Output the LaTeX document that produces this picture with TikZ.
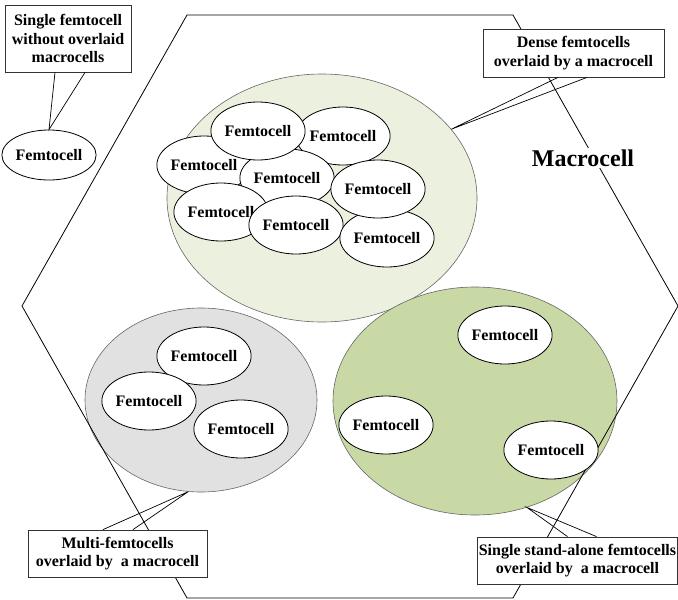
\documentclass[tikz,border=0pt]{standalone}
\usepackage{fontspec}
\setmainfont{Liberation Serif}
\usetikzlibrary{shapes.geometric}
\definecolor{densegreen}{HTML}{EBF1DE}
\definecolor{alonegreen}{HTML}{C8D9A6}
\definecolor{multigray}{HTML}{E1E1E1}

\begin{document}
\begin{tikzpicture}[x=1pt, y=-1pt,
    femto/.style = {ellipse, draw, line width=0.8pt, fill=white, minimum width=92pt, minimum height=58pt, inner sep=0pt, font=\fontsize{16}{18.5}\selectfont\bfseries},
    bigcell/.style = {ellipse, draw=black!60, line width=0.6pt, inner sep=0pt},
    callbox/.style = {rectangle, draw=black!80, line width=0.8pt, fill=white, align=center, inner sep=2pt, font=\fontsize{16}{18.5}\selectfont\bfseries}]
    \useasboundingbox (0,0) rectangle (678,600);

    % big cells
    \node[bigcell, fill=densegreen, minimum width=310pt, minimum height=248pt] (dense) at (322,198) {};
    \node[bigcell, fill=multigray, minimum width=232pt, minimum height=184pt] (multi) at (201,400) {};
    \node[bigcell, fill=alonegreen, minimum width=284pt, minimum height=228pt] (alone) at (475,401) {};

    % macrocell
    \draw[line width=0.8pt] (187,15) -- (513,15) -- (678,306) -- (513,598) -- (187,598) -- (22,306) -- cycle;

    % dense femtocells
    \node[femto] (d2) at (343,136) {Femtocell};
    \node[femto] (d3) at (204,165) {Femtocell};
    \node[femto] (d4) at (287,178) {Femtocell};
    \node[femto] (d1) at (258,131) {Femtocell};
    \node[femto] (d6) at (221,212) {Femtocell};
    \node[femto] (d7) at (296,225) {Femtocell};
    \node[femto] (d8) at (387,238) {Femtocell};
    \node[femto] (d5) at (378,189) {Femtocell};

    % multi femtocells
    \node[femto] (m1) at (204,356) {Femtocell};
    \node[femto] (m2) at (149,401) {Femtocell};
    \node[femto] (m3) at (241,429) {Femtocell};

    % stand-alone femtocells
    \node[femto] (s1) at (505,335) {Femtocell};
    \node[femto] (s2) at (386,425) {Femtocell};
    \node[femto] (s3) at (551,450) {Femtocell};

    \node[femto, minimum width=82pt, minimum height=50pt] (solo) at (49,155) {Femtocell};

    % callouts
    \node[callbox, minimum width=126pt, minimum height=67pt] (b1) at (68,38.5) {Single femtocell\\without overlaid\\macrocells};
    \node[callbox, minimum width=181pt, minimum height=48pt] (b2) at (573.5,53) {Dense femtocells\\overlaid by a macrocell};
    \node[callbox, minimum width=179pt, minimum height=47pt] (b3) at (117.5,553.5) {Multi-femtocells\\overlaid by\ \ a macrocell};
    \node[callbox, inner xsep=1pt, minimum width=200pt, minimum height=47pt] (b4) at (577.5,560.5) {Single stand-alone femtocells\\overlaid by\ \ a macrocell};

    \draw[line width=0.7pt] ([xshift=-13pt]b1.south) -- (solo.north) -- ([xshift=17pt]b1.south);
    \draw[line width=0.7pt] ([xshift=-15.5pt]b2.south) -- (dense.28) -- ([xshift=13.5pt]b2.south);
    \draw[line width=0.7pt] ([xshift=-14.5pt]b3.north) -- (multi.262) -- ([xshift=15.5pt]b3.north);
    \draw[line width=0.7pt] ([xshift=-10pt]b4.north) -- (alone.296) -- ([xshift=19pt]b4.north);

    \node[fill=white, inner sep=2pt, font=\fontsize{24}{28}\selectfont\bfseries] (macro) at (583,158) {Macrocell};
\end{tikzpicture}
\end{document}
